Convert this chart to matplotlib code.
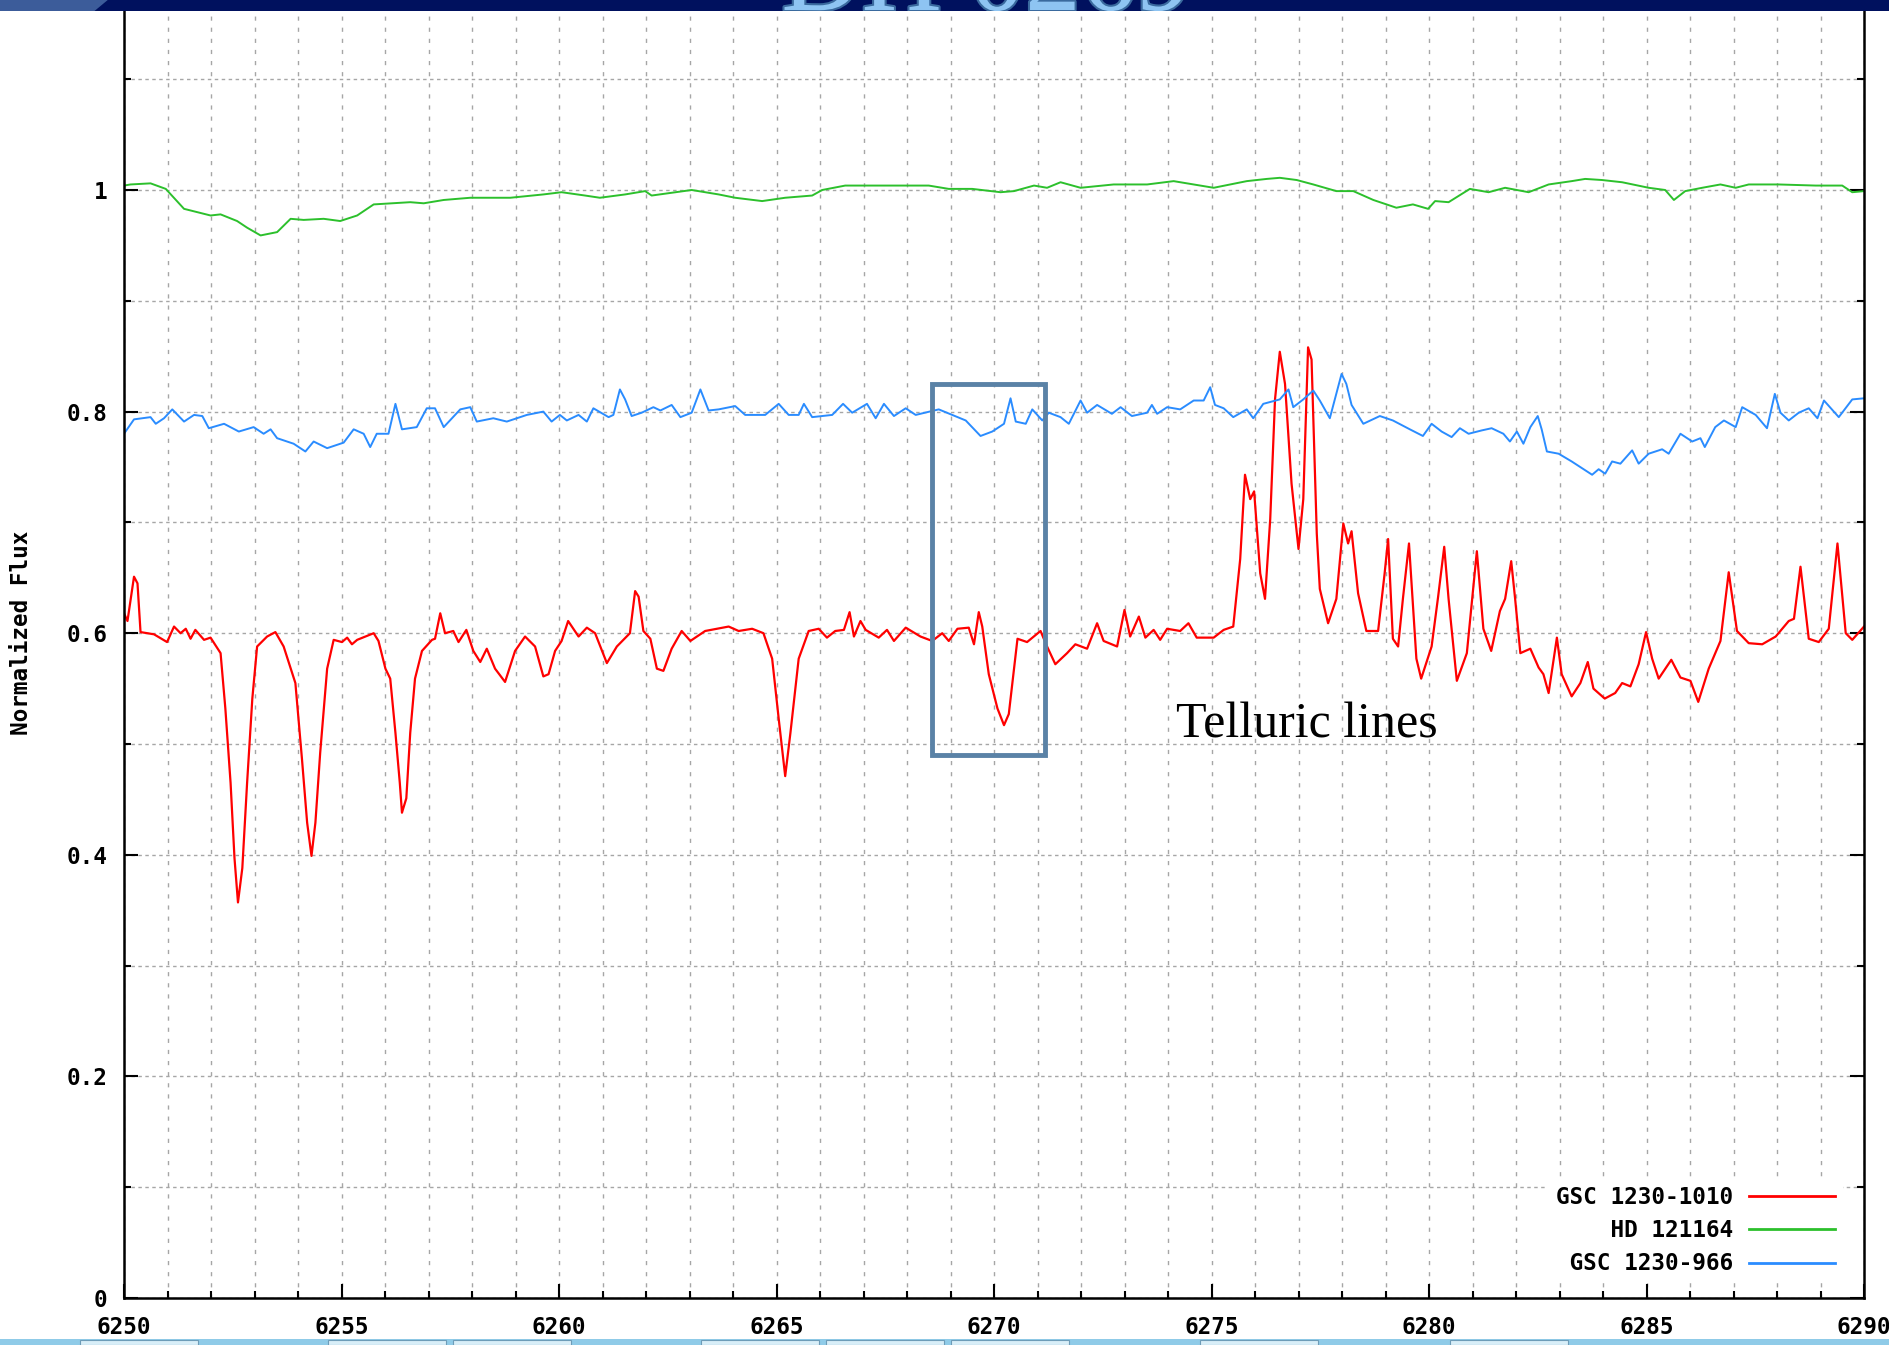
import matplotlib
matplotlib.use("Agg")
import matplotlib.pyplot as plt
import matplotlib.patches as patches
import matplotlib.patheffects as pe
from matplotlib.ticker import MultipleLocator, FixedLocator, FuncFormatter

# GSC 1230-1010 (red) - wavelength (A) and normalized flux
red_wave = [6250.00, 6250.08, 6250.23, 6250.31, 6250.38, 6250.69, 6250.99, 6251.15, 6251.30, 6251.42,
            6251.53, 6251.64, 6251.84, 6251.99, 6252.22, 6252.33, 6252.45, 6252.54, 6252.62, 6252.72,
            6252.83, 6252.95, 6253.06, 6253.29, 6253.48, 6253.67, 6253.94, 6254.09, 6254.21, 6254.31,
            6254.40, 6254.51, 6254.67, 6254.82, 6255.01, 6255.13, 6255.24, 6255.36, 6255.74, 6255.85,
            6256.01, 6256.12, 6256.24, 6256.34, 6256.39, 6256.49, 6256.58, 6256.69, 6256.85, 6257.08,
            6257.15, 6257.27, 6257.38, 6257.57, 6257.69, 6257.87, 6258.03, 6258.19, 6258.34, 6258.53,
            6258.76, 6258.99, 6259.22, 6259.45, 6259.64, 6259.76, 6259.91, 6260.06, 6260.21, 6260.45,
            6260.64, 6260.83, 6261.10, 6261.33, 6261.63, 6261.75, 6261.83, 6261.94, 6262.10, 6262.25,
            6262.40, 6262.59, 6262.82, 6263.02, 6263.36, 6263.90, 6264.13, 6264.44, 6264.70, 6264.90,
            6265.05, 6265.20, 6265.32, 6265.51, 6265.74, 6265.97, 6266.16, 6266.35, 6266.55, 6266.68,
            6266.78, 6266.93, 6267.05, 6267.35, 6267.54, 6267.70, 6267.97, 6268.31, 6268.58, 6268.81,
            6268.96, 6269.16, 6269.42, 6269.54, 6269.65, 6269.73, 6269.88, 6270.08, 6270.23, 6270.34,
            6270.54, 6270.76, 6271.07, 6271.22, 6271.41, 6271.68, 6271.87, 6272.14, 6272.37, 6272.52,
            6272.83, 6273.00, 6273.13, 6273.33, 6273.48, 6273.67, 6273.82, 6273.98, 6274.28, 6274.47,
            6274.66, 6275.05, 6275.28, 6275.50, 6275.66, 6275.77, 6275.89, 6275.98, 6276.12, 6276.23,
            6276.35, 6276.46, 6276.57, 6276.69, 6276.84, 6277.00, 6277.11, 6277.22, 6277.30, 6277.42,
            6277.49, 6277.68, 6277.87, 6278.03, 6278.14, 6278.22, 6278.37, 6278.56, 6278.83, 6278.98,
            6279.06, 6279.17, 6279.29, 6279.40, 6279.54, 6279.71, 6279.82, 6280.06, 6280.21, 6280.35,
            6280.45, 6280.64, 6280.87, 6281.10, 6281.25, 6281.43, 6281.63, 6281.75, 6281.89, 6281.98,
            6282.10, 6282.33, 6282.52, 6282.63, 6282.75, 6282.94, 6283.05, 6283.28, 6283.48, 6283.65,
            6283.78, 6284.04, 6284.28, 6284.44, 6284.63, 6284.82, 6284.99, 6285.13, 6285.28, 6285.57,
            6285.78, 6286.01, 6286.19, 6286.43, 6286.70, 6286.89, 6287.08, 6287.35, 6287.66, 6287.97,
            6288.27, 6288.39, 6288.54, 6288.73, 6288.96, 6289.19, 6289.39, 6289.58, 6289.73, 6290.00]
red_flux = [0.618, 0.611, 0.651, 0.645, 0.601, 0.599, 0.592, 0.606, 0.600, 0.604,
            0.595, 0.603, 0.594, 0.596, 0.582, 0.532, 0.465, 0.397, 0.357, 0.388,
            0.465, 0.541, 0.588, 0.597, 0.601, 0.588, 0.555, 0.487, 0.429, 0.399,
            0.429, 0.492, 0.568, 0.594, 0.592, 0.596, 0.590, 0.594, 0.600, 0.593,
            0.568, 0.559, 0.510, 0.465, 0.438, 0.451, 0.510, 0.559, 0.584, 0.594,
            0.595, 0.618, 0.600, 0.602, 0.592, 0.603, 0.584, 0.574, 0.586, 0.568,
            0.556, 0.584, 0.597, 0.588, 0.561, 0.563, 0.584, 0.593, 0.611, 0.597,
            0.605, 0.600, 0.573, 0.588, 0.600, 0.638, 0.633, 0.602, 0.595, 0.568,
            0.566, 0.586, 0.602, 0.593, 0.602, 0.606, 0.602, 0.604, 0.600, 0.577,
            0.523, 0.471, 0.510, 0.577, 0.602, 0.604, 0.596, 0.602, 0.603, 0.619,
            0.597, 0.611, 0.603, 0.596, 0.603, 0.593, 0.605, 0.597, 0.593, 0.600,
            0.593, 0.604, 0.605, 0.590, 0.619, 0.606, 0.563, 0.532, 0.517, 0.527,
            0.595, 0.592, 0.602, 0.588, 0.572, 0.582, 0.590, 0.586, 0.609, 0.593,
            0.588, 0.621, 0.597, 0.615, 0.596, 0.603, 0.594, 0.604, 0.602, 0.609,
            0.596, 0.596, 0.603, 0.606, 0.667, 0.743, 0.721, 0.728, 0.654, 0.631,
            0.703, 0.811, 0.854, 0.825, 0.735, 0.676, 0.721, 0.858, 0.847, 0.690,
            0.640, 0.609, 0.631, 0.699, 0.681, 0.692, 0.636, 0.602, 0.602, 0.654,
            0.685, 0.595, 0.588, 0.631, 0.681, 0.577, 0.559, 0.588, 0.633, 0.678,
            0.631, 0.557, 0.582, 0.674, 0.604, 0.584, 0.620, 0.631, 0.665, 0.631,
            0.582, 0.586, 0.569, 0.563, 0.546, 0.596, 0.563, 0.543, 0.555, 0.574,
            0.550, 0.541, 0.546, 0.555, 0.552, 0.572, 0.601, 0.577, 0.559, 0.576,
            0.560, 0.557, 0.538, 0.568, 0.593, 0.655, 0.602, 0.591, 0.590, 0.597,
            0.611, 0.613, 0.660, 0.595, 0.592, 0.604, 0.681, 0.600, 0.594, 0.606]

# HD 121164 (green)
green_wave = [6250.00, 6250.15, 6250.61, 6250.96, 6251.38, 6251.99, 6252.22, 6252.60, 6252.83, 6253.14,
              6253.52, 6253.83, 6254.13, 6254.59, 6254.97, 6255.36, 6255.74, 6256.58, 6256.89, 6257.35,
              6257.96, 6258.88, 6259.64, 6260.06, 6260.60, 6260.94, 6261.52, 6261.98, 6262.13, 6263.05,
              6263.67, 6264.05, 6264.67, 6265.20, 6265.82, 6266.05, 6266.58, 6266.97, 6267.89, 6268.50,
              6268.96, 6269.50, 6270.15, 6270.46, 6270.92, 6271.22, 6271.53, 6271.99, 6272.75, 6273.52,
              6274.13, 6275.05, 6275.81, 6276.27, 6276.57, 6276.96, 6277.34, 6277.87, 6278.26, 6278.72,
              6279.25, 6279.63, 6279.98, 6280.14, 6280.45, 6280.94, 6281.37, 6281.75, 6282.29, 6282.75,
              6283.28, 6283.59, 6283.98, 6284.44, 6285.05, 6285.43, 6285.63, 6285.89, 6286.28, 6286.70,
              6287.05, 6287.35, 6288.04, 6288.89, 6289.50, 6289.73, 6290.00]
green_flux = [1.004, 1.005, 1.006, 1.001, 0.983, 0.977, 0.978, 0.972, 0.966, 0.959,
              0.962, 0.974, 0.973, 0.974, 0.972, 0.977, 0.987, 0.989, 0.988, 0.991,
              0.993, 0.993, 0.996, 0.998, 0.995, 0.993, 0.996, 0.999, 0.995, 1.000,
              0.996, 0.993, 0.990, 0.993, 0.995, 1.000, 1.004, 1.004, 1.004, 1.004,
              1.001, 1.001, 0.998, 0.999, 1.004, 1.002, 1.007, 1.002, 1.005, 1.005,
              1.008, 1.002, 1.008, 1.010, 1.011, 1.009, 1.005, 0.999, 0.999, 0.991,
              0.984, 0.987, 0.983, 0.990, 0.989, 1.001, 0.998, 1.002, 0.998, 1.005,
              1.008, 1.010, 1.009, 1.007, 1.002, 1.000, 0.991, 0.999, 1.002, 1.005,
              1.002, 1.005, 1.005, 1.004, 1.004, 0.998, 0.999]

# GSC 1230-966 (blue)
blue_wave = [6250.00, 6250.23, 6250.61, 6250.73, 6250.92, 6251.11, 6251.38, 6251.61, 6251.80, 6251.95,
             6252.30, 6252.64, 6252.98, 6253.21, 6253.37, 6253.52, 6253.90, 6254.17, 6254.36, 6254.67,
             6255.05, 6255.28, 6255.51, 6255.66, 6255.81, 6256.08, 6256.24, 6256.39, 6256.73, 6256.96,
             6257.15, 6257.35, 6257.73, 6257.96, 6258.11, 6258.49, 6258.80, 6259.26, 6259.64, 6259.83,
             6260.02, 6260.18, 6260.45, 6260.64, 6260.79, 6261.14, 6261.25, 6261.40, 6261.52, 6261.67,
             6261.90, 6262.17, 6262.33, 6262.59, 6262.79, 6263.05, 6263.25, 6263.44, 6263.67, 6264.05,
             6264.28, 6264.74, 6265.05, 6265.28, 6265.51, 6265.63, 6265.82, 6266.28, 6266.53, 6266.74,
             6267.08, 6267.28, 6267.47, 6267.70, 6267.97, 6268.20, 6268.73, 6269.04, 6269.35, 6269.69,
             6269.96, 6270.23, 6270.38, 6270.50, 6270.73, 6270.88, 6271.11, 6271.26, 6271.53, 6271.72,
             6271.99, 6272.14, 6272.37, 6272.71, 6272.91, 6273.17, 6273.52, 6273.63, 6273.75, 6273.98,
             6274.28, 6274.59, 6274.82, 6274.97, 6275.08, 6275.28, 6275.50, 6275.81, 6275.96, 6276.19,
             6276.57, 6276.77, 6276.88, 6277.11, 6277.34, 6277.49, 6277.72, 6277.99, 6278.10, 6278.22,
             6278.49, 6278.87, 6279.17, 6279.56, 6279.86, 6280.06, 6280.29, 6280.52, 6280.71, 6280.91,
             6281.21, 6281.44, 6281.71, 6281.86, 6282.02, 6282.17, 6282.33, 6282.50, 6282.59, 6282.71,
             6282.98, 6283.28, 6283.75, 6283.90, 6284.05, 6284.21, 6284.40, 6284.67, 6284.82, 6285.05,
             6285.36, 6285.51, 6285.78, 6286.05, 6286.24, 6286.34, 6286.58, 6286.78, 6287.05, 6287.20,
             6287.51, 6287.77, 6287.95, 6288.08, 6288.27, 6288.50, 6288.73, 6288.93, 6289.08, 6289.42,
             6289.73, 6290.00]
blue_flux = [0.780, 0.793, 0.795, 0.789, 0.794, 0.802, 0.791, 0.797, 0.796, 0.785,
             0.789, 0.782, 0.786, 0.780, 0.784, 0.776, 0.771, 0.764, 0.773, 0.767,
             0.772, 0.784, 0.780, 0.768, 0.780, 0.780, 0.807, 0.784, 0.786, 0.803,
             0.803, 0.786, 0.802, 0.804, 0.791, 0.794, 0.791, 0.797, 0.800, 0.791,
             0.797, 0.792, 0.797, 0.791, 0.803, 0.795, 0.797, 0.820, 0.811, 0.796,
             0.799, 0.804, 0.801, 0.806, 0.795, 0.799, 0.820, 0.801, 0.802, 0.805,
             0.797, 0.797, 0.807, 0.797, 0.797, 0.807, 0.795, 0.797, 0.807, 0.799,
             0.807, 0.794, 0.807, 0.796, 0.803, 0.797, 0.802, 0.797, 0.792, 0.778,
             0.782, 0.789, 0.812, 0.791, 0.789, 0.802, 0.792, 0.799, 0.795, 0.789,
             0.810, 0.799, 0.806, 0.798, 0.804, 0.796, 0.799, 0.806, 0.798, 0.804,
             0.802, 0.810, 0.810, 0.822, 0.806, 0.803, 0.795, 0.802, 0.794, 0.807,
             0.811, 0.820, 0.804, 0.811, 0.819, 0.810, 0.794, 0.834, 0.825, 0.806,
             0.789, 0.796, 0.792, 0.784, 0.778, 0.789, 0.782, 0.777, 0.785, 0.780,
             0.783, 0.785, 0.780, 0.773, 0.782, 0.771, 0.786, 0.796, 0.784, 0.764,
             0.762, 0.755, 0.743, 0.748, 0.744, 0.755, 0.753, 0.765, 0.753, 0.762,
             0.766, 0.762, 0.780, 0.773, 0.776, 0.768, 0.786, 0.792, 0.786, 0.804,
             0.797, 0.785, 0.816, 0.799, 0.792, 0.799, 0.803, 0.794, 0.810, 0.795,
             0.811, 0.812]

series_labels = ["GSC 1230-1010", "HD 121164", "GSC 1230-966"]
series_colors = ["#ff0000", "#2cc02c", "#2a8cff"]

x_range = (6250, 6290)
y_range = (0, 1.2)
y_labelled = [0, 0.2, 0.4, 0.6, 0.8, 1.0]

# annotation box around the feature near 6270 A
box_x0, box_x1 = 6268.57, 6271.17
box_y0, box_y1 = 0.4904, 0.8245
note_text = "Telluric lines"
note_x, note_y = 6274.18, 0.506

mono = {"family": "DejaVu Sans Mono", "weight": "bold", "size": 16.3}

fig = plt.figure(figsize=(18.9, 13.45), dpi=100)
fig.patch.set_facecolor("white")

# slide title banner cut off at the top
banner = patches.Rectangle((0, 1 - 11 / 1345), 1, 11 / 1345, transform=fig.transFigure,
                           facecolor="#00115e", edgecolor="none", zorder=5)
fig.patches.append(banner)
corner = patches.Polygon([(0, 1), (0.057, 1), (0.05, 1 - 11 / 1345), (0, 1 - 11 / 1345)],
                         closed=True, transform=fig.transFigure, facecolor="#3c5c9a",
                         edgecolor="none", zorder=6)
fig.patches.append(corner)
title = fig.text(0.522, 1 - 10 / 1345, "DH 0269", ha="center", va="baseline", fontsize=80,
                 family="Liberation Serif", color="#8ec4f2", zorder=7,
                 path_effects=[pe.withStroke(linewidth=3, foreground="#3a6a9e")])
title.set_clip_path(banner)

# strip of the slide sorter at the bottom
strip = patches.Rectangle((0, 0), 1, 6 / 1345, transform=fig.transFigure,
                          facecolor="#8fcbe8", edgecolor="none", zorder=5)
fig.patches.append(strip)
for tab_left in [80, 328, 453, 701, 826, 951, 1200, 1450]:
    fig.patches.append(patches.Rectangle((tab_left / 1890, 0), 118 / 1890, 5 / 1345,
                                         transform=fig.transFigure, facecolor="#d8eef8",
                                         edgecolor="#6d9cb8", linewidth=0.8, zorder=6))

ax = fig.add_axes([124 / 1890, 47 / 1345, 1740 / 1890, 1329.6 / 1345])

ax.plot(red_wave, red_flux, color=series_colors[0], lw=1.6, label=series_labels[0])
ax.plot(green_wave, green_flux, color=series_colors[1], lw=1.4, label=series_labels[1])
ax.plot(blue_wave, blue_flux, color=series_colors[2], lw=1.4, label=series_labels[2])

ax.set_xlim(*x_range)
ax.set_ylim(*y_range)

ax.xaxis.set_major_locator(MultipleLocator(5))
ax.xaxis.set_minor_locator(MultipleLocator(1))
ax.yaxis.set_major_locator(FixedLocator(y_labelled))
ax.yaxis.set_minor_locator(MultipleLocator(0.1))
ax.yaxis.set_major_formatter(FuncFormatter(lambda v, p: f"{v:g}"))

ax.tick_params(which="both", direction="in", top=True, right=True, width=1.5, color="black")
ax.tick_params(which="major", length=10)
ax.tick_params(which="minor", length=5)
ax.tick_params(axis="x", which="major", pad=13)
ax.tick_params(axis="y", which="major", pad=12)
for lab in ax.get_xticklabels() + ax.get_yticklabels():
    lab.set_fontfamily(mono["family"])
    lab.set_fontweight(mono["weight"])
    lab.set_fontsize(mono["size"])

for sp in ax.spines.values():
    sp.set_linewidth(1.8)

ax.grid(True, which="both", axis="x", color="#a6a6a6", lw=1.0, ls=(0, (3, 5)))
ax.grid(True, which="both", axis="y", color="#a6a6a6", lw=1.0, ls=(0, (2.5, 2.5)))
ax.set_axisbelow(True)

ax.set_ylabel("Normalized Flux", fontdict=mono)
ax.yaxis.set_label_coords(-0.0523, 0.5)

ax.add_patch(patches.Rectangle((box_x0, box_y0), box_x1 - box_x0, box_y1 - box_y0,
                               fill=False, edgecolor="#5a82a6", linewidth=3.5, zorder=4))
ax.text(note_x, note_y, note_text, family="Liberation Serif", fontsize=36,
        ha="left", va="baseline", color="black", zorder=4)

# gnuplot style key: right aligned labels, sample line to the right
width = max(len(s) for s in series_labels)
handles = ax.get_lines()
leg = ax.legend(handles, [s.rjust(width) for s in series_labels], loc="lower right",
                bbox_to_anchor=(0.988, 0.011), borderaxespad=0, frameon=True, fancybox=False,
                facecolor="white", edgecolor="none", framealpha=1, markerfirst=False,
                handlelength=3.8, handletextpad=0.7, labelspacing=0.45, borderpad=0.35,
                prop=mono)
for line in leg.get_lines():
    line.set_linewidth(2.0)

fig.savefig("out.png", dpi=100)
